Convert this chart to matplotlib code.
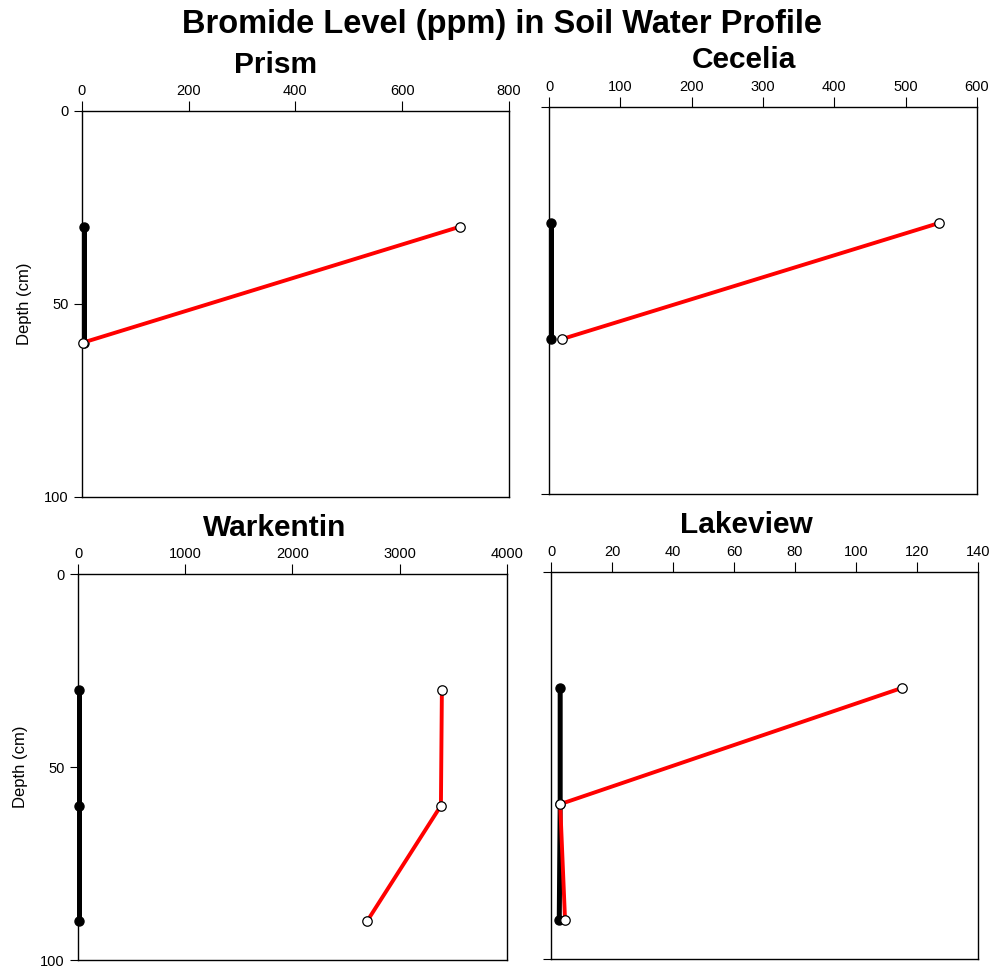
import matplotlib.pyplot as plt

plt.rcParams['font.family'] = ['Liberation Sans', 'DejaVu Sans']

# depth of each sample (cm) and bromide levels (ppm) per site
prism_depth = [30, 60]
prism_black = [3, 3]
prism_red = [708, 2]

cecelia_depth = [30, 60]
cecelia_black = [3, 3]
cecelia_red = [547, 18]

warkentin_depth = [30, 60, 90]
warkentin_black = [5, 5, 5]
warkentin_red = [3394, 3385, 2695]

lakeview_depth = [30, 60, 90]
lakeview_black = [3, 3, 2.7]
lakeview_red = [115, 3, 4.6]

sites = [
    ("Prism", prism_depth, prism_black, prism_red, 800, 200,
     [0.0824, 0.4882, 0.429, 0.3975], True, (276, 65)),
    ("Cecelia", cecelia_depth, cecelia_black, cecelia_red, 600, 100,
     [0.5518, 0.4913, 0.430, 0.3986], False, (744, 60)),
    ("Warkentin", warkentin_depth, warkentin_black, warkentin_red, 4000, 1000,
     [0.0784, 0.0113, 0.431, 0.3975], True, (275, 528)),
    ("Lakeview", lakeview_depth, lakeview_black, lakeview_red, 140, 20,
     [0.5538, 0.0124, 0.429, 0.3986], False, (746, 525)),
]

fig = plt.figure(figsize=(9.95, 9.71), dpi=100)

for name, depth, black, red, xmax, step, pos, labels, tpos in sites:
    ax = fig.add_axes(pos)
    ax.plot(black, depth, color='black', lw=3.6, marker='o', ms=6.5,
            mfc='black', mec='black', clip_on=False, zorder=3)
    ax.plot(red, depth, color='red', lw=2.8, marker='o', ms=6.8,
            mfc='white', mec='black', mew=0.9, clip_on=False, zorder=4)
    ax.set_xlim(0, xmax)
    ax.set_ylim(100, 0)
    ax.xaxis.tick_top()
    ax.set_xticks(range(0, xmax + 1, step))
    ax.tick_params(axis='x', direction='out', length=7, labelsize=10.5, pad=2.5)
    ax.tick_params(axis='y', direction='out', length=6, labelsize=10.5)
    if labels:
        ax.set_yticks([0, 50, 100])
        ax.set_ylabel("Depth (cm)", fontsize=12, labelpad=9)
    else:
        ax.set_yticks([0, 100])
        ax.set_yticklabels([])
    for sp in ax.spines.values():
        sp.set_linewidth(1.0)
    fig.text(tpos[0] / 995, 1 - tpos[1] / 971, name, ha='center', va='center',
             fontsize=21.5, fontweight='bold')

fig.text(0.505, 1 - 24 / 971, "Bromide Level (ppm) in Soil Water Profile",
         ha='center', va='center', fontsize=23.5, fontweight='bold')

fig.savefig("out.png", dpi=100)
